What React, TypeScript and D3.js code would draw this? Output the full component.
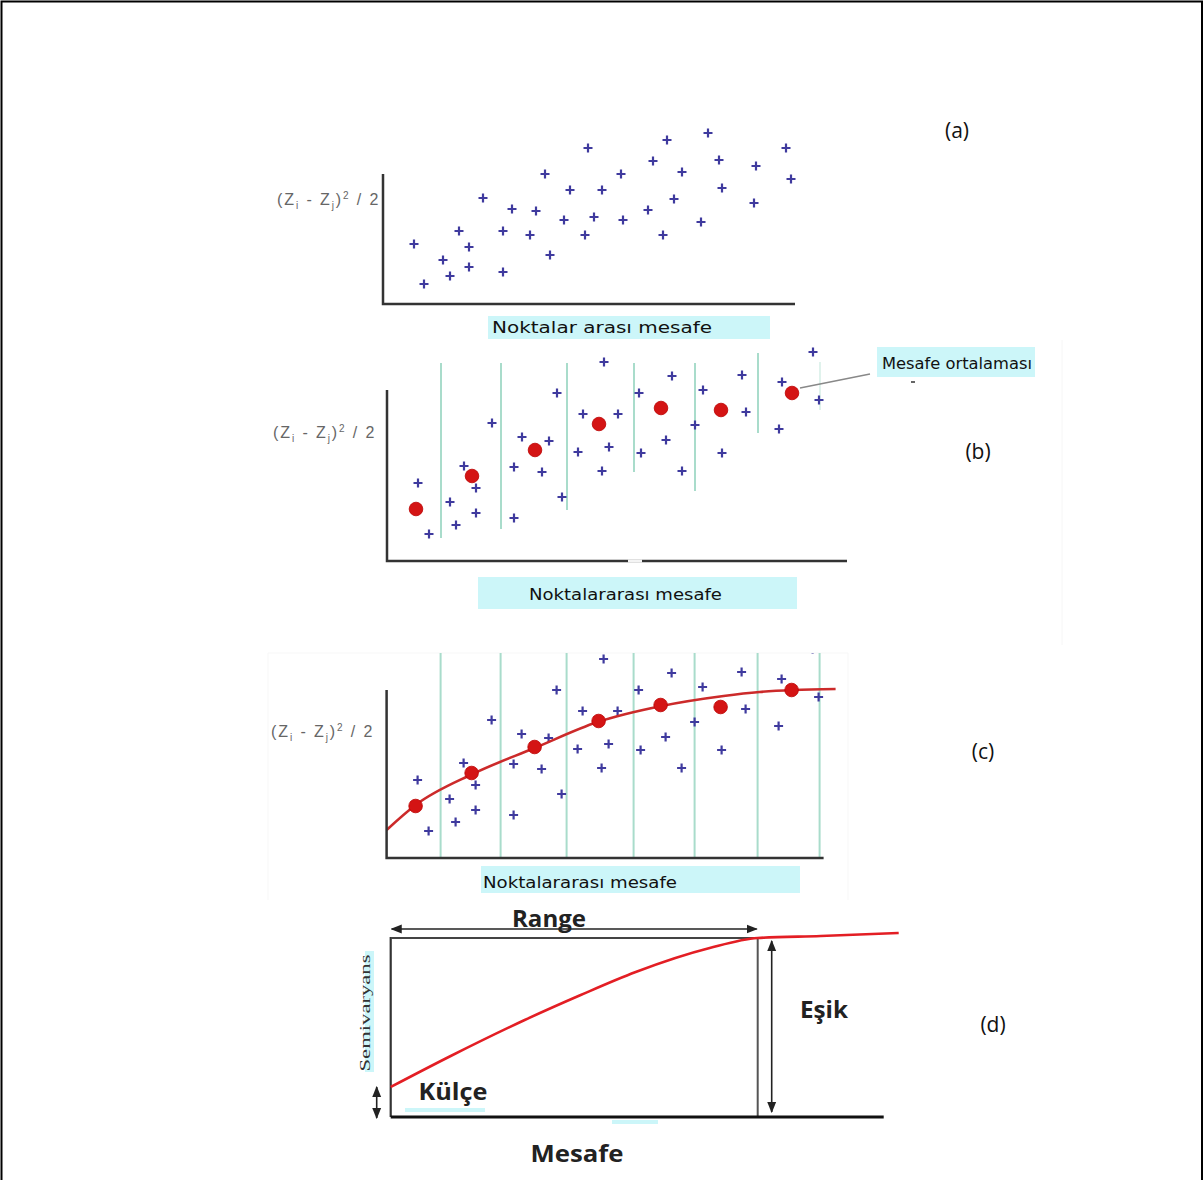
import React from "react";
import * as d3 from "d3";

// ---------- DATA (distance, semivariance) in panel units ----------
const scatterA: [number, number][] = [
  [31, 60], [41, 20], [60, 44], [67, 28], [76, 73], [86, 57], [86, 37], [100, 106],
  [120, 73], [120, 32], [129, 95], [147, 69], [153, 93], [162, 130], [167, 49],
  [181, 84], [187, 114], [205, 156], [202, 69], [211, 87], [219, 114], [238, 130],
  [240, 84], [265, 94], [270, 143], [280, 69], [284, 164], [291, 105], [299, 132],
  [318, 82], [325, 171], [336, 144], [339, 116], [371, 101], [373, 138], [403, 156],
  [408, 125],
];

const scatterBC: [number, number][] = [
  [31, 78], [42, 27], [63, 59], [69, 36], [77, 95], [89, 73], [89, 48], [105, 138],
  [127, 94], [127, 43], [135, 124], [155, 89], [162, 120], [170, 168], [175, 64],
  [191, 109], [196, 147], [217, 199], [215, 90], [222, 114], [231, 147], [252, 168],
  [254, 108], [279, 121], [285, 185], [295, 90], [308, 136], [316, 171], [335, 108],
  [355, 186], [359, 149], [392, 132], [395, 179], [426, 209], [432, 161],
];

const binMeans: [number, number][] = [
  [29, 52], [85, 85], [148, 111], [212, 137], [274, 153], [334, 151], [405, 168],
];

const binEdges = [54, 114, 180, 247, 308, 371, 433];
const binTopB = [198, 198, 198, 198, 198, 208, 199];
const binBottomB = [23, 32, 51, 89, 70, 128, 151];

const modelCurveC: [number, number][] = [
  [0, 28], [29, 53], [86, 84], [148, 110], [211, 136], [275, 152], [337, 162],
  [373, 166], [407, 168], [449, 169],
];

const modelCurveD: [number, number][] = [
  [0, 30], [60, 61], [134, 97], [190, 122], [245, 145], [319, 169], [367, 179],
  [430, 181], [508, 184],
];

const rangeD = 367; // distance at which sill reached
const sillD = 179;
const nuggetD = 30;

const panelLabels = ["(a)", "(b)", "(c)", "(d)"];
const yLabelParts = ["(Z", "i", " - Z", "j", ")", "2", " / 2"];
const xLabelA = "Noktalar arası mesafe";
const xLabelBC = "Noktalararası mesafe";
const meanLabel = "Mesafe ortalaması";
const dLabels = { range: "Range", sill: "Eşik", nugget: "Külçe", x: "Mesafe", y: "Semivaryans" };

// ---------- STYLE ----------
const PLUS_COLOR = "#3f3a9e";
const DOT_COLOR = "#d41414";
const BIN_COLOR = "#a9dccb";
const CYAN = "#ccf6f9";
const AXIS = "#333";

function Plus({ x, y }: { x: number; y: number }) {
  const h = 4.5;
  return (
    <path
      d={`M${x - h},${y}H${x + h}M${x},${y - h}V${y + h}`}
      stroke={PLUS_COLOR}
      strokeWidth={2.2}
      fill="none"
    />
  );
}

function YLabel({ x, y }: { x: number; y: number }) {
  return (
    <text
      x={x}
      y={y}
      fontFamily="Liberation Sans, Arial, sans-serif"
      fontSize={16}
      fill="#666"
      letterSpacing={1.9}
    >
      <tspan>{yLabelParts[0]}</tspan>
      <tspan fontSize={10} dy={4}>{yLabelParts[1]}</tspan>
      <tspan dy={-4}>{yLabelParts[2]}</tspan>
      <tspan fontSize={10} dy={4}>{yLabelParts[3]}</tspan>
      <tspan dy={-4}>{yLabelParts[4]}</tspan>
      <tspan fontSize={10} dy={-6}>{yLabelParts[5]}</tspan>
      <tspan dy={6}>{yLabelParts[6]}</tspan>
    </text>
  );
}

function CyanLabel({
  bx, by, bw, bh, tx, ty, tw, text,
}: { bx: number; by: number; bw: number; bh: number; tx: number; ty: number; tw: number; text: string }) {
  return (
    <g>
      <rect x={bx} y={by} width={bw} height={bh} fill={CYAN} />
      <text
        x={tx}
        y={ty}
        fontFamily="DejaVu Sans Condensed, DejaVu Sans, sans-serif"
        fontStretch="condensed"
        fontSize={15}
        fill="#111"
        textLength={tw}
        lengthAdjust="spacingAndGlyphs"
      >
        {text}
      </text>
    </g>
  );
}

export default function App() {
  // Panel scales
  const xA = d3.scaleLinear().domain([0, 412]).range([383, 795]);
  const yA = d3.scaleLinear().domain([0, 130]).range([304, 174]);

  const xB = d3.scaleLinear().domain([0, 460]).range([387, 847]);
  const yB = d3.scaleLinear().domain([0, 171]).range([561, 390]);

  const xC = d3.scaleLinear().domain([0, 437]).range([386.6, 823.6]);
  const yC = d3.scaleLinear().domain([0, 168]).range([858, 690]);

  const xD = d3.scaleLinear().domain([0, 493]).range([390.7, 883.7]);
  const yD = d3.scaleLinear().domain([0, 179]).range([1117, 938]);

  const lineC = d3
    .line<[number, number]>()
    .x((d) => xC(d[0]))
    .y((d) => yC(d[1]))
    .curve(d3.curveMonotoneX);

  const lineD = d3
    .line<[number, number]>()
    .x((d) => xD(d[0]))
    .y((d) => yD(d[1]))
    .curve(d3.curveMonotoneX);

  const labelFont = "Open Sans, Liberation Sans, sans-serif";

  return (
    <svg
      width={1204}
      height={1180}
      style={{ position: "absolute", left: 0, top: 0, background: "#fff" }}
    >
      <defs>
        <marker id="arr" viewBox="0 0 10 10" refX="9" refY="5" markerWidth="7" markerHeight="7" orient="auto-start-reverse">
          <path d="M0,1 L10,5 L0,9 z" fill="#222" />
        </marker>
        <clipPath id="clipC">
          <rect x={250} y={653} width={620} height={250} />
        </clipPath>
      </defs>

      {/* Outer frame */}
      <path d="M1.5,1180 V1.5 H1202 V1180" fill="none" stroke="#000" strokeWidth={2} />

      {/* ---------------- Panel (a) ---------------- */}
      <g>
        {scatterA.map((d, i) => (
          <Plus key={i} x={xA(d[0])} y={yA(d[1])} />
        ))}
        <path d={`M${xA(0)},${yA(130)}V${yA(0)}H${xA(412)}`} fill="none" stroke={AXIS} strokeWidth={2.5} />
        <YLabel x={277} y={205} />
        <CyanLabel bx={488} by={316} bw={282} bh={23} tx={492} ty={333} tw={220} text={xLabelA} />
        <text x={957} y={138} textAnchor="middle" fontFamily={labelFont} fontSize={21} fill="#111">
          {panelLabels[0]}
        </text>
      </g>

      {/* ---------------- Panel (b) ---------------- */}
      <g>
        <line x1={1062} x2={1062} y1={340} y2={645} stroke="#f6f6f6" strokeWidth={1} />
        {binEdges.map((e, i) => (
          <line
            key={i}
            x1={xB(e)}
            x2={xB(e)}
            y1={yB(binTopB[i])}
            y2={yB(binBottomB[i])}
            stroke={BIN_COLOR}
            strokeWidth={i === binEdges.length - 1 ? 1.2 : 2}
            opacity={i === binEdges.length - 1 ? 0.6 : 1}
          />
        ))}
        {scatterBC.map((d, i) => (
          <Plus key={i} x={xB(d[0])} y={yB(d[1])} />
        ))}
        {/* callout line */}
        <line x1={xB(binMeans[6][0]) + 8} y1={yB(binMeans[6][1]) - 5} x2={870} y2={374} stroke="#888" strokeWidth={1.5} />
        {binMeans.map((d, i) => (
          <circle key={i} cx={xB(d[0])} cy={yB(d[1])} r={6.8} fill={DOT_COLOR} stroke="#b00" strokeWidth={0.8} />
        ))}
        <path d={`M${xB(0)},${yB(171)}V${yB(0)}H${xB(460)}`} fill="none" stroke={AXIS} strokeWidth={2.5} />
        <line x1={628} x2={642} y1={yB(0)} y2={yB(0)} stroke="#f4f4f4" strokeWidth={3} />
        <YLabel x={273} y={438} />
        <CyanLabel bx={478} by={577} bw={319} bh={32} tx={529} ty={600} tw={193} text={xLabelBC} />
        <rect x={877} y={347} width={158} height={30} fill={CYAN} />
        <text
          x={882}
          y={369}
          fontFamily="DejaVu Sans Condensed, DejaVu Sans, sans-serif"
          fontStretch="condensed"
          fontSize={15}
          fill="#111"
          textLength={150}
          lengthAdjust="spacingAndGlyphs"
        >
          {meanLabel}
        </text>
        <line x1={911} x2={915} y1={382} y2={382} stroke="#333" strokeWidth={1.5} />
        <text x={978} y={459} textAnchor="middle" fontFamily={labelFont} fontSize={21} fill="#111">
          {panelLabels[1]}
        </text>
      </g>

      {/* ---------------- Panel (c) ---------------- */}
      <g>
        <path d="M268,900 V653 H848 V900" fill="none" stroke="#f7f7f7" strokeWidth={1} />
        <g clipPath="url(#clipC)">
          {binEdges.map((e, i) => (
            <line key={i} x1={xC(e)} x2={xC(e)} y1={653} y2={yC(0)} stroke={BIN_COLOR} strokeWidth={2} />
          ))}
          {scatterBC.map((d, i) => (
            <Plus key={i} x={xC(d[0])} y={yC(d[1])} />
          ))}
          <path d={lineC(modelCurveC) || ""} fill="none" stroke="#cc2a2a" strokeWidth={2.6} />
          {binMeans.map((d, i) => (
            <circle key={i} cx={xC(d[0])} cy={yC(d[1])} r={6.8} fill={DOT_COLOR} stroke="#b00" strokeWidth={0.8} />
          ))}
        </g>
        <path d={`M${xC(0)},${yC(168)}V${yC(0)}H${xC(437)}`} fill="none" stroke={AXIS} strokeWidth={2.5} />
        <YLabel x={271} y={737} />
        <CyanLabel bx={481} by={866} bw={319} bh={27} tx={483} ty={888} tw={194} text={xLabelBC} />
        <text x={983} y={759} textAnchor="middle" fontFamily={labelFont} fontSize={21} fill="#111">
          {panelLabels[2]}
        </text>
      </g>

      {/* ---------------- Panel (d) ---------------- */}
      <g>
        {/* faint cyan artefacts */}
        <rect x={405} y={1108} width={80} height={4} fill={CYAN} />
        <rect x={612} y={1120} width={46} height={4} fill={CYAN} />
        <rect x={365} y={951} width={9} height={121} fill={CYAN} />
        {/* box */}
        <line x1={xD(0)} x2={xD(0)} y1={yD(sillD) - 1} y2={yD(0)} stroke="#333" strokeWidth={2.2} />
        <line x1={xD(0)} x2={xD(rangeD) + 7} y1={yD(sillD)} y2={yD(sillD)} stroke="#444" strokeWidth={2} />
        <line x1={xD(rangeD)} x2={xD(rangeD)} y1={yD(sillD)} y2={yD(0)} stroke="#555" strokeWidth={2} />
        <line x1={xD(0)} x2={xD(493)} y1={yD(0)} y2={yD(0)} stroke="#111" strokeWidth={3} />
        {/* range arrow */}
        <line
          x1={xD(0) + 1}
          x2={xD(rangeD) - 1}
          y1={yD(sillD) - 9}
          y2={yD(sillD) - 9}
          stroke="#222"
          strokeWidth={1.6}
          markerStart="url(#arr)"
          markerEnd="url(#arr)"
        />
        {/* sill arrow */}
        <line
          x1={xD(rangeD) + 14}
          x2={xD(rangeD) + 14}
          y1={yD(sillD) + 3}
          y2={yD(0) - 5}
          stroke="#222"
          strokeWidth={1.6}
          markerStart="url(#arr)"
          markerEnd="url(#arr)"
        />
        {/* nugget arrow */}
        <line
          x1={xD(0) - 14}
          x2={xD(0) - 14}
          y1={yD(nuggetD)}
          y2={yD(0) + 1}
          stroke="#222"
          strokeWidth={1.6}
          markerStart="url(#arr)"
          markerEnd="url(#arr)"
        />
        <path d={lineD(modelCurveD) || ""} fill="none" stroke="#e31e24" strokeWidth={2.6} />
        <text x={549} y={927} textAnchor="middle" fontFamily={labelFont} fontWeight={700} fontSize={23} fill="#222" textLength={74} lengthAdjust="spacingAndGlyphs">
          {dLabels.range}
        </text>
        <text x={824} y={1018} textAnchor="middle" fontFamily={labelFont} fontWeight={700} fontSize={23} fill="#222" textLength={48} lengthAdjust="spacingAndGlyphs">
          {dLabels.sill}
        </text>
        <text x={453} y={1100} textAnchor="middle" fontFamily={labelFont} fontWeight={700} fontSize={23} fill="#222" textLength={69} lengthAdjust="spacingAndGlyphs">
          {dLabels.nugget}
        </text>
        <text x={577} y={1162} textAnchor="middle" fontFamily={labelFont} fontWeight={700} fontSize={24} fill="#222" textLength={93} lengthAdjust="spacingAndGlyphs">
          {dLabels.x}
        </text>
        <text
          transform="translate(370,1013) rotate(-90)"
          textAnchor="middle"
          fontFamily="Liberation Serif, Times New Roman, serif"
          fontSize={15}
          fill="#333"
          textLength={117}
          lengthAdjust="spacingAndGlyphs"
        >
          {dLabels.y}
        </text>
        <text x={993} y={1032} textAnchor="middle" fontFamily={labelFont} fontSize={21} fill="#111">
          {panelLabels[3]}
        </text>
      </g>
    </svg>
  );
}
